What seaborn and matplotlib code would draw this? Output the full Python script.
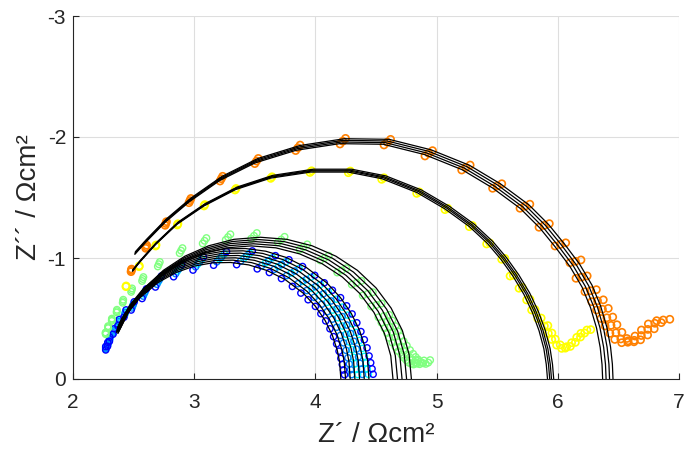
import matplotlib
matplotlib.use("Agg")
import matplotlib.pyplot as plt
import pandas as pd
import seaborn as sns

# ---------------- data ----------------
# measured points (base spectrum of each family)
cluster_x = [2.27, 2.285, 2.30, 2.33, 2.37, 2.42, 2.48, 2.57, 2.68, 2.83, 2.99, 3.16, 3.35,
             3.52, 3.62, 3.72, 3.81, 3.88, 3.94, 4.00, 4.045, 4.085, 4.12, 4.15, 4.175, 4.195,
             4.21, 4.222, 4.232, 4.24]
cluster_y = [-0.24, -0.27, -0.31, -0.37, -0.44, -0.51, -0.57, -0.665, -0.76, -0.845, -0.90, -0.94, -0.945,
             -0.91, -0.88, -0.83, -0.765, -0.71, -0.655, -0.60, -0.54, -0.48, -0.415, -0.35, -0.29, -0.23,
             -0.17, -0.12, -0.075, -0.035]
cluster_pivot = 2.27
blue_scales = [1.0, 1.12]
azure_scales = [1.03, 1.075]
cyan_scales = [1.055, 1.10]

green_x = [2.27, 2.29, 2.32, 2.36, 2.41, 2.48, 2.57, 2.70, 2.88, 3.07, 3.26, 3.47, 3.69, 3.87,
           4.04, 4.18, 4.30, 4.39, 4.46, 4.52, 4.545, 4.57, 4.59, 4.61, 4.635, 4.66, 4.685, 4.71,
           4.73, 4.75, 4.77, 4.79, 4.81, 4.83, 4.845]
green_y = [-0.37, -0.42, -0.48, -0.55, -0.63, -0.72, -0.81, -0.93, -1.04, -1.12, -1.15, -1.16, -1.13, -1.07,
           -0.98, -0.88, -0.78, -0.69, -0.60, -0.51, -0.465, -0.42, -0.38, -0.34, -0.30, -0.265, -0.23, -0.20,
           -0.175, -0.155, -0.135, -0.125, -0.12, -0.13, -0.15]
green_pivot = 2.30
green_scales = [1.0, 1.02, 1.04]

yellow_x = [2.437, 2.545, 2.682, 2.861, 3.081, 3.337, 3.631, 3.955, 4.272, 4.547, 4.836, 5.069, 5.27,
            5.413, 5.537, 5.606, 5.68, 5.743, 5.784, 5.834, 5.889, 5.922, 5.95, 5.99, 6.032, 6.073,
            6.114, 6.156, 6.19, 6.24]
yellow_y = [-0.763, -0.928, -1.099, -1.273, -1.43, -1.562, -1.658, -1.707, -1.705, -1.65, -1.534, -1.40,
            -1.259, -1.116, -0.989, -0.851, -0.75, -0.653, -0.57, -0.50, -0.438, -0.377, -0.327, -0.28,
            -0.253, -0.267, -0.30, -0.344, -0.377, -0.405]
yellow_pivot = 2.25
yellow_scales = [1.0, 1.008]

orange_x = [2.479, 2.60, 2.76, 2.957, 3.213, 3.50, 3.837, 4.203, 4.566, 4.904, 5.207, 5.462, 5.688,
            5.845, 5.977, 6.10, 6.15, 6.224, 6.28, 6.32, 6.356, 6.39, 6.43, 6.47, 6.527, 6.58, 6.637,
            6.69, 6.747, 6.816]
orange_y = [-0.887, -1.08, -1.27, -1.457, -1.636, -1.78, -1.888, -1.942, -1.934, -1.843, -1.727, -1.576,
            -1.411, -1.254, -1.099, -0.961, -0.832, -0.721, -0.639, -0.57, -0.50, -0.438, -0.377, -0.327,
            -0.30, -0.316, -0.355, -0.405, -0.455, -0.482]
orange_pivot = 2.30
orange_scales = [1.0, 1.012, 1.024]

# fitted curves (innermost curve of each family + scale of the others)
cluster_fit_x = [2.36, 2.39, 2.45, 2.55, 2.70, 2.85, 3.00, 3.15, 3.30, 3.45, 3.60, 3.75, 3.90,
                 4.00, 4.08, 4.14, 4.18, 4.20, 4.21]
cluster_fit_y = [-0.385, -0.447, -0.547, -0.669, -0.796, -0.880, -0.933, -0.960, -0.963, -0.943, -0.897,
                 -0.822, -0.709, -0.601, -0.484, -0.361, -0.239, -0.139, 0.0]
cluster_fit_pivot = 2.28
cluster_fit_scales = [1.0, 1.02, 1.04, 1.06, 1.08, 1.10, 1.12]

green_fit_x = [2.370, 2.457, 2.574, 2.718, 2.885, 3.070, 3.266, 3.470, 3.674, 3.870, 4.055, 4.222,
               4.366, 4.483, 4.570, 4.622, 4.640]
green_fit_y = [-0.376, -0.550, -0.707, -0.843, -0.953, -1.034, -1.084, -1.100, -1.084, -1.034, -0.953,
               -0.843, -0.707, -0.550, -0.376, -0.191, 0.0]
green_fit_pivot = 2.30
green_fit_scales = [1.0, 1.016, 1.032, 1.048, 1.065]

yellow_fit_x = [2.49, 2.55, 2.68, 2.86, 3.08, 3.34, 3.63, 3.96, 4.27, 4.55, 4.84, 5.07, 5.27, 5.42,
                5.53, 5.63, 5.72, 5.79, 5.845, 5.885, 5.905, 5.915]
yellow_fit_y = [-0.89, -0.965, -1.11, -1.28, -1.43, -1.565, -1.66, -1.71, -1.71, -1.655, -1.54, -1.405,
                -1.26, -1.12, -0.99, -0.85, -0.70, -0.55, -0.40, -0.25, -0.12, 0.0]
yellow_fit_pivot = 2.25
yellow_fit_scales = [1.0, 1.005, 1.009, 1.014]

orange_fit_x = [2.51, 2.60, 2.76, 2.96, 3.21, 3.50, 3.84, 4.20, 4.56, 4.90, 5.21, 5.46, 5.69, 5.85,
                5.98, 6.10, 6.20, 6.27, 6.32, 6.35, 6.365, 6.37]
orange_fit_y = [-1.03, -1.13, -1.295, -1.465, -1.64, -1.785, -1.89, -1.945, -1.94, -1.855, -1.73, -1.58,
                -1.41, -1.25, -1.09, -0.93, -0.76, -0.59, -0.42, -0.26, -0.12, 0.0]
orange_fit_pivot = 2.30
orange_fit_scales = [1.0, 1.007, 1.014, 1.021]

x_ticks = [2, 3, 4, 5, 6, 7]
y_ticks = [0, -1, -2, -3]

# ---------------- style ----------------
sns.set_theme(style="white")
plt.rcParams['font.family'] = ['Liberation Sans', 'DejaVu Sans']
plt.rcParams['axes.unicode_minus'] = False

fig = plt.figure(figsize=(6.84, 4.55), dpi=100)
ax = fig.add_axes([73 / 684, 76 / 455, 606 / 684, 363 / 455])


def copies(xs, ys, pivot, scales, name):
    rows = []
    for k, s in enumerate(scales):
        for x, y in zip(xs, ys):
            rows.append({"x": pivot + (x - pivot) * s, "y": y * s, "curve": f"{name}{k}"})
    return pd.DataFrame(rows)


def markers(df, color, size, lw):
    sns.scatterplot(data=df, x="x", y="y", ax=ax, marker="o", s=size,
                    facecolors="none", edgecolor=color, linewidth=lw, zorder=3, legend=False)


def fits(df):
    sns.lineplot(data=df, x="x", y="y", units="curve", estimator=None, sort=False,
                 ax=ax, color="black", linewidth=0.9, zorder=4, legend=False)


markers(copies(cluster_x, cluster_y, cluster_pivot, cyan_scales, "c"), (0, 1, 1), 20, 1.0)
markers(copies(cluster_x, cluster_y, cluster_pivot, azure_scales, "a"), (0, 0.5, 1), 20, 1.0)
markers(copies(cluster_x, cluster_y, cluster_pivot, blue_scales, "b"), (0, 0, 1), 20, 1.0)
fits(copies(cluster_fit_x, cluster_fit_y, cluster_fit_pivot, cluster_fit_scales, "cf"))

markers(copies(green_x, green_y, green_pivot, green_scales, "g"), (0.5, 1, 0.5), 22, 1.0)
fits(copies(green_fit_x, green_fit_y, green_fit_pivot, green_fit_scales, "gf"))

markers(copies(yellow_x, yellow_y, yellow_pivot, yellow_scales, "y"), (1, 1, 0), 26, 1.2)
fits(copies(yellow_fit_x, yellow_fit_y, yellow_fit_pivot, yellow_fit_scales, "yf"))

markers(copies(orange_x, orange_y, orange_pivot, orange_scales, "o"), (1, 0.5, 0), 26, 1.2)
fits(copies(orange_fit_x, orange_fit_y, orange_fit_pivot, orange_fit_scales, "of"))

ax.set_xlim(2, 7)
ax.set_ylim(0, -3)
ax.set_xticks(x_ticks)
ax.set_yticks(y_ticks)
ax.set_xticklabels([str(t) for t in x_ticks])
ax.set_yticklabels([str(t) for t in y_ticks])
ax.grid(True, color=(0.87, 0.87, 0.87), linewidth=0.8)
ax.set_axisbelow(True)
for side in ("top", "right"):
    ax.spines[side].set_visible(False)
for side in ("left", "bottom"):
    ax.spines[side].set_color((0.15, 0.15, 0.15))
    ax.spines[side].set_linewidth(0.8)
ax.tick_params(axis="both", direction="in", length=4, width=0.8, colors=(0.15, 0.15, 0.15),
               labelsize=15, bottom=True, left=True)
ax.tick_params(axis="x", pad=10)
ax.tick_params(axis="y", pad=5)
ax.set_xlabel("Z\u00b4 / \u03a9cm\u00b2", fontsize=20, color=(0.15, 0.15, 0.15), labelpad=7)
ax.set_ylabel("Z\u00b4\u00b4 / \u03a9cm\u00b2", fontsize=20, color=(0.15, 0.15, 0.15), labelpad=4)

fig.savefig("out.png", dpi=100)
